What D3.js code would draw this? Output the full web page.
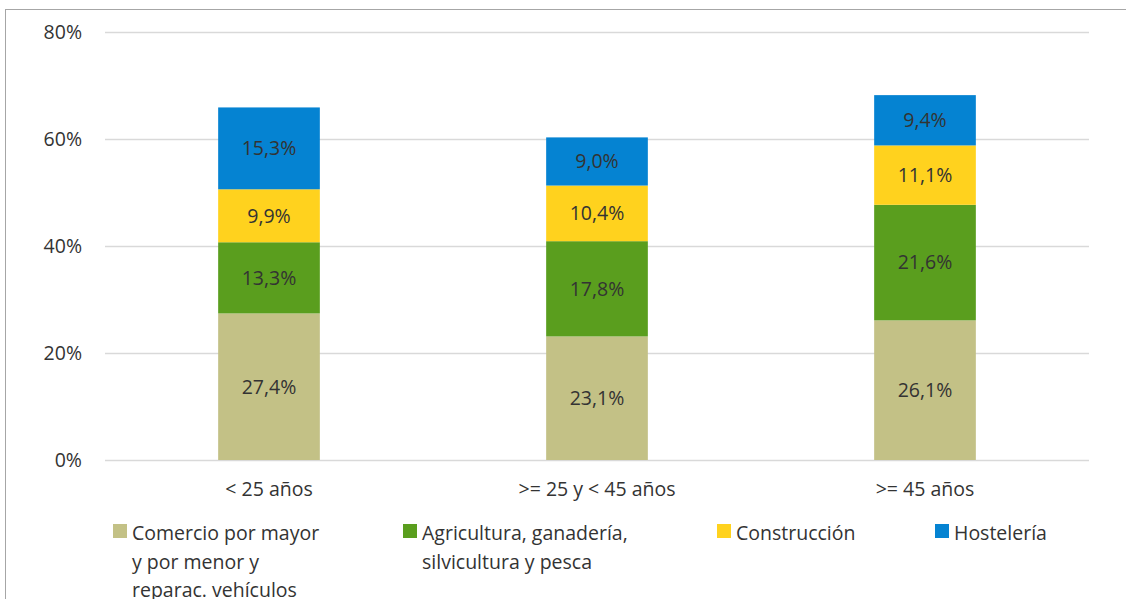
<!DOCTYPE html>
<html>
<head>
<meta charset="utf-8">
<script src="https://cdn.jsdelivr.net/npm/d3@7"></script>
<style>
  body { margin: 0; background: #fff; }
  text { font-family: "Open Sans", "Noto Sans", sans-serif; fill: #333; }
</style>
</head>
<body>
<div id="chart"></div>
<script>
const categories = ["< 25 años", ">= 25 y < 45 años", ">= 45 años"];
const seriesNames = ["Comercio por mayor y por menor y reparac. vehículos", "Agricultura, ganadería, silvicultura y pesca", "Construcción", "Hostelería"];
const legendLines = [["Comercio por mayor", "y por menor y", "reparac. vehículos"], ["Agricultura, ganadería,", "silvicultura y pesca"], ["Construcción"], ["Hostelería"]];
const comercio = [27.4, 23.1, 26.1];
const agricultura = [13.3, 17.8, 21.6];
const construccion = [9.9, 10.4, 11.1];
const hosteleria = [15.3, 9.0, 9.4];
const yTicks = [0, 20, 40, 60, 80];
const colors = ["#c3c186", "#5a9e1e", "#ffd21e", "#0583d2"];

const W = 1126, H = 599;
const margin = {top: 32, right: 37, bottom: 139, left: 105};
const width = W - margin.left - margin.right;
const height = H - margin.top - margin.bottom;
const fs = "19.5px";

const svg = d3.select("#chart").append("svg")
  .attr("width", W).attr("height", H);

// frame
svg.append("line").attr("x1", 5).attr("x2", W).attr("y1", 9.5).attr("y2", 9.5)
  .attr("stroke", "#a6a6a6").attr("stroke-width", 1);
svg.append("line").attr("x1", 5.5).attr("x2", 5.5).attr("y1", 9).attr("y2", H)
  .attr("stroke", "#a6a6a6").attr("stroke-width", 1);

const g = svg.append("g").attr("transform", `translate(${margin.left},${margin.top})`);

const x = d3.scaleBand().domain(categories).range([0, width]).paddingInner(0.69).paddingOuter(0.345);
const y = d3.scaleLinear().domain([0, 80]).range([height, 0]);

// gridlines + y labels
const yAxis = d3.axisLeft(y).tickValues(yTicks).tickSize(-width).tickFormat(d => d + "%");
const ya = g.append("g").call(yAxis);
ya.select(".domain").remove();
ya.selectAll(".tick line").attr("stroke", "#d9d9d9").attr("stroke-width", 1.5);
ya.selectAll(".tick text").attr("x", -23).attr("dy", "0.35em")
  .style("font-size", fs).style("fill", "#333");

const table = categories.map((c, i) => ({
  cat: c,
  v: [comercio[i], agricultura[i], construccion[i], hosteleria[i]]
}));
const keys = [0, 1, 2, 3];
const stack = d3.stack().keys(keys).value((d, k) => d.v[k]);
const layers = stack(table);

const fmt = v => v.toFixed(1).replace(".", ",") + "%";

layers.forEach((layer, li) => {
  const lg = g.append("g");
  lg.selectAll("rect").data(layer).join("rect")
    .attr("x", d => x(d.data.cat))
    .attr("width", x.bandwidth())
    .attr("y", d => y(d[1]))
    .attr("height", d => y(d[0]) - y(d[1]))
    .attr("fill", colors[li]);
  lg.selectAll("text").data(layer).join("text")
    .attr("x", d => x(d.data.cat) + x.bandwidth() / 2)
    .attr("y", d => (y(d[0]) + y(d[1])) / 2)
    .attr("dy", "0.35em")
    .attr("text-anchor", "middle")
    .style("font-size", fs)
    .text(d => fmt(d[1] - d[0]));
});

// x axis labels
const xa = g.append("g").attr("transform", `translate(0,${height})`)
  .call(d3.axisBottom(x).tickSize(0).tickPadding(24));
xa.select(".domain").remove();
xa.selectAll(".tick text").attr("dy", "0.6em").style("font-size", fs).style("fill", "#333");

// legend
const legendX = [113, 403, 717, 935];
seriesNames.forEach((name, i) => {
  const lg = svg.append("g").attr("transform", `translate(${legendX[i]},524)`);
  lg.append("rect").attr("width", 14).attr("height", 14).attr("fill", colors[i]);
  const t = lg.append("text").attr("x", 19).attr("y", 16).style("font-size", fs);
  legendLines[i].forEach((ln, j) => {
    t.append("tspan").attr("x", 19).attr("dy", j === 0 ? 0 : 28.5).text(ln);
  });
});
</script>
</body>
</html>
